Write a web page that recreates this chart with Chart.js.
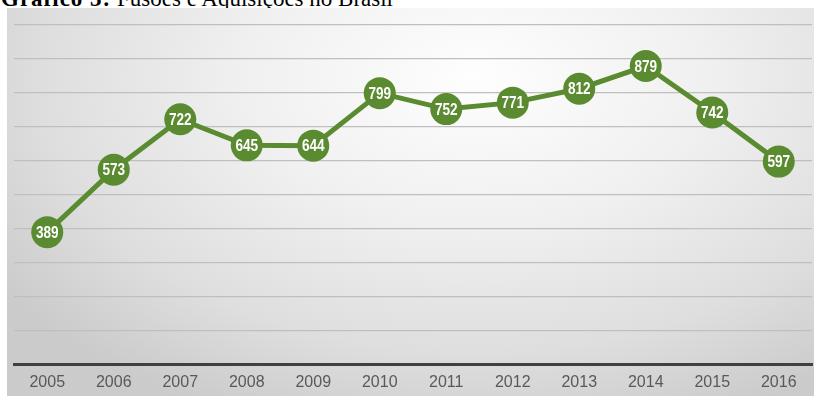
<!DOCTYPE html>
<html>
<head>
<meta charset="utf-8">
<script src="https://cdn.jsdelivr.net/npm/chart.js@4"></script>
<style>
  html, body { margin: 0; padding: 0; background: #fff; overflow: hidden; }
  #wrap { position: relative; width: 814px; height: 396px; }
  #title {
    position: absolute; left: 1px; top: -13px;
    font-family: "Liberation Serif", "Times New Roman", serif;
    font-size: 23px; line-height: 23px; color: #000; white-space: nowrap;
  }
  #title b { letter-spacing: 1px; }
  #panel {
    position: absolute; left: 7px; top: 8px; width: 807px; height: 388px;
    background: radial-gradient(ellipse 72% 95% at 58% 18%, #fefefe 0%, #f0f0f0 40%, #dedede 75%, #cbcbcb 100%);
  }
  #c { position: absolute; left: 0; top: 0; }
</style>
</head>
<body>
<div id="wrap">
  <div id="title"><b>Gráfico 3:</b> Fusões e Aquisições no Brasil</div>
  <div id="panel"></div>
  <canvas id="c" width="814" height="396"></canvas>
</div>
<script>
// yearly deal counts
const years = ['2005','2006','2007','2008','2009','2010','2011','2012','2013','2014','2015','2016'];
const deals = [389, 573, 722, 645, 644, 799, 752, 771, 812, 879, 742, 597];

const green = '#5b8b30';

// write each value inside its marker, squeezed to a condensed look
const valueLabels = {
  id: 'valueLabels',
  afterDatasetsDraw(chart) {
    const ctx = chart.ctx;
    const meta = chart.getDatasetMeta(0);
    meta.data.forEach((pt, i) => {
      ctx.save();
      ctx.translate(pt.x, pt.y + 1);
      ctx.scale(0.8, 1);
      ctx.fillStyle = '#ffffff';
      ctx.font = 'bold 17px "Liberation Sans", Arial, sans-serif';
      ctx.textAlign = 'center';
      ctx.textBaseline = 'middle';
      ctx.fillText(String(deals[i]), 0, 0);
      ctx.restore();
    });
  }
};

// year labels under the axis
const yearLabels = {
  id: 'yearLabels',
  afterDraw(chart) {
    const ctx = chart.ctx;
    const xs = chart.scales.x;
    ctx.save();
    ctx.fillStyle = '#595959';
    ctx.font = '16px "Liberation Sans", Arial, sans-serif';
    ctx.textAlign = 'center';
    ctx.textBaseline = 'middle';
    years.forEach((y, i) => {
      ctx.fillText(y, xs.getPixelForValue(i), xs.top + 19);
    });
    ctx.restore();
  }
};

new Chart(document.getElementById('c'), {
  type: 'line',
  data: {
    labels: years,
    datasets: [{
      data: deals,
      borderColor: green,
      borderWidth: 5,
      backgroundColor: green,
      pointBackgroundColor: green,
      pointBorderWidth: 0,
      pointRadius: 16,
      tension: 0,
      fill: false
    }]
  },
  options: {
    responsive: false,
    animation: false,
    events: [],
    layout: { autoPadding: false, padding: { left: 14, right: 2, top: 25, bottom: 0 } },
    plugins: { legend: { display: false }, tooltip: { enabled: false } },
    scales: {
      x: {
        offset: true,
        grid: { display: false },
        border: { display: true, color: '#404040', width: 3 },
        ticks: { display: false },
        afterFit(scale) { scale.height = 32; }
      },
      y: {
        min: 0,
        max: 1000,
        ticks: { display: false, stepSize: 100 },
        grid: { color: '#bfbfbf', lineWidth: 1.2, drawTicks: false },
        border: { display: false },
        afterFit(scale) { scale.width = 0; }
      }
    }
  },
  plugins: [valueLabels, yearLabels]
});
</script>
</body>
</html>
